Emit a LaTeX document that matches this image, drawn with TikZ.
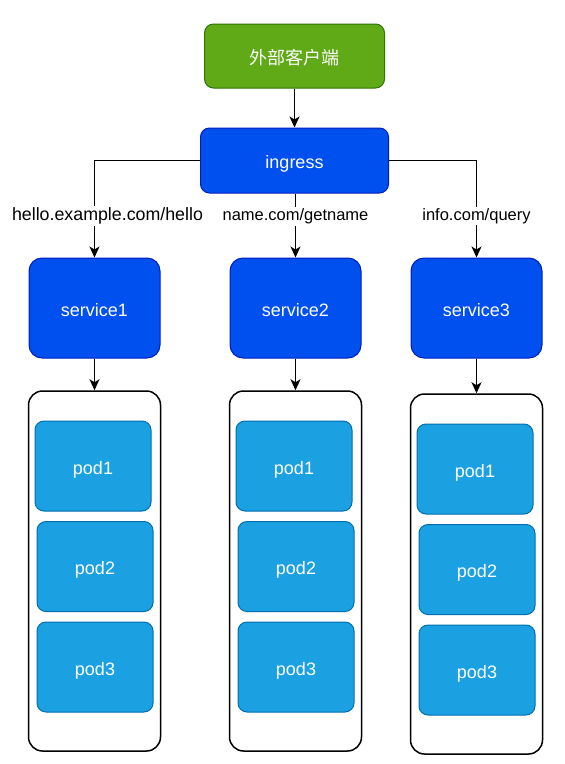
\documentclass[tikz,border=0pt]{standalone}
\usepackage{fontspec}
\setmainfont{Liberation Sans}
\newfontfamily\cjk{Noto Sans CJK SC}
\usetikzlibrary{arrows.meta,positioning}
\definecolor{clientgreen}{HTML}{60A917}
\definecolor{clientline}{HTML}{2D7600}
\definecolor{svcblue}{HTML}{0050EF}
\definecolor{svcline}{HTML}{001DBC}
\definecolor{podblue}{HTML}{1BA1E2}
\definecolor{podline}{HTML}{006EAF}

\begin{document}
\begin{tikzpicture}[
  x=1pt, y=-1pt,
  box/.style={draw, rounded corners=9pt, align=center, inner sep=0pt, line width=1pt, text=white, text height=16pt, text depth=0pt, font=\fontsize{18}{21}\selectfont},
  client/.style={box, fill=clientgreen, draw=clientline, minimum width=180pt, minimum height=64pt},
  svc/.style={box, fill=svcblue, draw=svcline},
  pod/.style={box, fill=podblue, draw=podline, minimum width=116pt, minimum height=90pt},
  group/.style={draw, rounded corners=14pt, line width=1.5pt, minimum width=132pt, minimum height=360pt, inner sep=0pt},
  lbl/.style={fill=white, inner sep=1.5pt, font=\fontsize{16.5}{19}\selectfont},
  link/.style={->, line width=1.5pt},
  >={Stealth[length=11pt, width=10pt, inset=3pt]}
]
\useasboundingbox (0,0) rectangle (565,764);

\node[client, font=\cjk\fontsize{18}{21}\selectfont] (client) at (294.5,56) {外部客户端};
\node[svc, minimum width=188pt, minimum height=65pt] (ingress) at (294.5,160.5) {ingress};
\draw[link] (client) -- (ingress);

% one column per service
\foreach \c/\x/\dy in {1/94.5/0, 2/295.5/0, 3/476.5/3} {
  \node[svc, minimum width=131pt, minimum height=100pt, rounded corners=13pt] (svc\c) at (\x,308) {service\c};
  \node[group] (grp\c) at (\x,571+\dy) {};
  \node[pod] (pod\c1) at (\x-1.5,466+\dy) {pod1};
  \node[pod] (pod\c2) at (\x+0.5,566.5+\dy) {pod2};
  \node[pod] (pod\c3) at (\x+0.5,667+\dy) {pod3};
  \draw[link] (svc\c) -- (grp\c);
}

\draw[link] (ingress.west) -| node[lbl, pos=0.785, xshift=13pt, font=\fontsize{17.8}{20}\selectfont] {hello.example.com/hello} (svc1);
\draw[link] (ingress.south -| svc2.north) -- node[lbl, pos=0.36] {name.com/getname} (svc2);
\draw[link] (ingress.east) -| node[lbl, pos=0.785] {info.com/query} (svc3);
\end{tikzpicture}
\end{document}
